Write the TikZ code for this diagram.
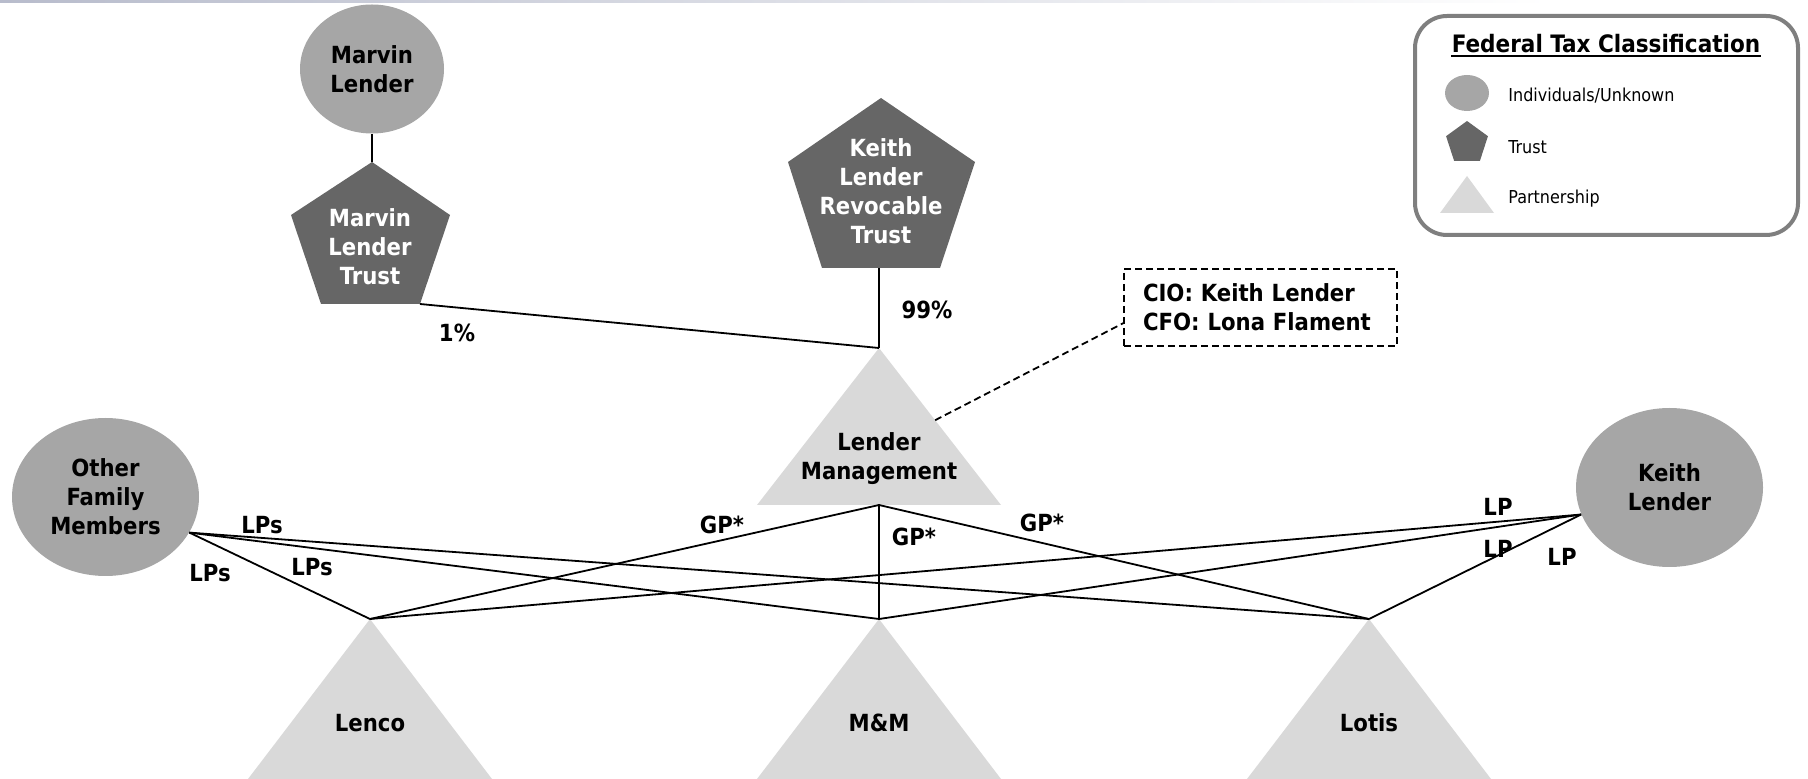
\documentclass[tikz,border=0pt]{standalone}
\usepackage{fontspec}
\setmainfont{DejaVu Sans Condensed}
\usetikzlibrary{shapes.geometric,calc}
\definecolor{indiv}{HTML}{A6A6A6}
\definecolor{trust}{HTML}{666666}
\definecolor{partner}{HTML}{D9D9D9}
\definecolor{legendline}{HTML}{7F7F7F}
\definecolor{barc}{HTML}{B8BCCC}
\begin{document}
\begin{tikzpicture}[x=0.5pt,y=-0.5pt,
  lbl/.style={font=\bfseries\fontsize{11.8}{14.5}\selectfont, align=center, inner sep=0pt},
  indivnode/.style={ellipse, fill=indiv, inner sep=0pt, lbl},
  conn/.style={line width=0.9pt},
  legtext/.style={anchor=west, inner sep=0pt, font=\fontsize{8.9}{10}\selectfont}
]
\useasboundingbox (0,0) rectangle (1808,779);
\shade[left color=barc, right color=white] (0,0) rectangle (1550,3);

% partnership triangles
\coordinate (lmtop) at (879,348);
\coordinate (lmright) at (1001,505);
\coordinate (lmbase) at (879,505);
\fill[partner] (lmtop) -- (lmright) -- (757,505) -- cycle;
\node[lbl] (lmtext) at (879,459) {Lender\\Management};

\coordinate (lenco) at (370,619);
\coordinate (mm) at (879,619);
\coordinate (lotis) at (1369,619);
\foreach \c in {lenco,mm,lotis}{
  \fill[partner] (\c) -- ++(122,160) -- ++(-244,0) -- cycle;
}
\node[lbl] (lencotext) at (370,723) {Lenco};
\node[lbl] (mmtext) at (879,723) {M\&M};
\node[lbl] (lotistext) at (1369,723) {Lotis};

% trusts
\coordinate (mlttop) at (372,162);
\coordinate (mltbr) at (420,304);
\fill[trust] (mlttop) -- (450,215) -- (mltbr) -- (321,304) -- (291,215) -- cycle;
\node[lbl, text=white] (mlt) at (370,247) {Marvin\\Lender\\Trust};

\coordinate (klrttop) at (881,98);
\coordinate (klrtbot) at (879,268);
\fill[trust] (klrttop) -- (975,162) -- (940,268) -- (822,268) -- (788,162) -- cycle;
\node[lbl, text=white] (klrt) at (881,191) {Keith\\Lender\\Revocable\\Trust};

% individuals
\node[indivnode, minimum width=72pt, minimum height=64.5pt] (ml) at (372,69) {Marvin\\Lender};
\node[indivnode, minimum width=93.5pt, minimum height=79pt] (ofm) at (105.5,497) {Other\\Family\\Members};
\node[indivnode, minimum width=93.5pt, minimum height=79.5pt] (kl) at (1669.5,487.5) {Keith\\Lender};

% officer box
\node[draw, dashed, line width=0.8pt, dash pattern=on 3.5pt off 2pt, lbl, align=left,
      text width=117.5pt, inner xsep=9.5pt, minimum height=38.5pt] (box) at (1260.5,307.5)
      {CIO: Keith Lender\\CFO: Lona Flament};

% connectors
\draw[conn] (ml.south) -- (mlttop);
\draw[conn] (mltbr) -- (lmtop);
\draw[conn] (klrtbot) -- (lmtop);
\draw[conn, dashed, dash pattern=on 3.5pt off 2pt] ($(lmtop)!0.46!(lmright)$) -- ($(box.south west)!0.3!(box.north west)$);

\draw[conn] (lmbase) -- (lenco);
\draw[conn, line width=1.2pt] (lmbase) -- (mm);
\draw[conn] (lmbase) -- (lotis);
\foreach \c in {lenco,mm,lotis}{
  \draw[conn] (ofm.-23) -- (\c);
  \draw[conn] (kl.197) -- (\c);
}

% connector labels
\node[lbl] (pct1) at (457,333) {1\%};
\node[lbl] (pct99) at (927,310) {99\%};
\node[lbl] (lps1) at (262,525) {LPs};
\node[lbl] (lps2) at (210,573) {LPs};
\node[lbl] (lps3) at (312,567) {LPs};
\node[lbl] (gp1) at (722,525) {GP*};
\node[lbl] (gp2) at (914,537) {GP*};
\node[lbl] (gp3) at (1042,523) {GP*};
\node[lbl] (lp1) at (1498,507) {LP};
\node[lbl] (lp2) at (1498,549) {LP};
\node[lbl] (lp3) at (1562,557) {LP};

% legend
\draw[legendline, line width=2pt, rounded corners=16pt] (1415,16) rectangle (1798,235);
\node[inner sep=0pt, anchor=base, font=\bfseries\fontsize{12}{14}\selectfont] (legtitle) at (1606,53) {Federal Tax Classification};
\draw[line width=1pt] ([yshift=-1.6pt]legtitle.base west) -- ([yshift=-1.6pt]legtitle.base east);
\node[ellipse, fill=indiv, inner sep=0pt, minimum width=22pt, minimum height=18pt] (legind) at (1467,93) {};
\node[regular polygon, regular polygon sides=5, fill=trust, inner sep=0pt, minimum size=22pt] (legtrust) at (1467,143) {};
\coordinate (legpart) at (1467,176);
\fill[partner] (legpart) -- (1494,213) -- (1440,213) -- cycle;
\node[legtext] (legt1) at (1508,96) {Individuals/Unknown};
\node[legtext] (legt2) at (1508,147) {Trust};
\node[legtext] (legt3) at (1508,199) {Partnership};
\end{tikzpicture}
\end{document}
